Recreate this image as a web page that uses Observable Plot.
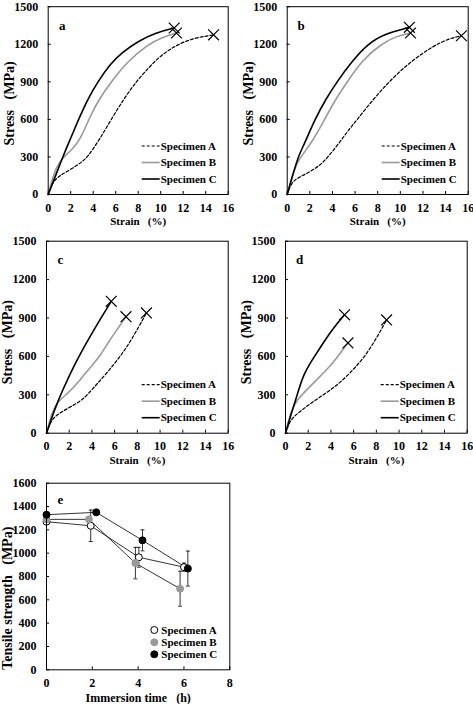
<!DOCTYPE html>
<html><head><meta charset="utf-8">
<script src="https://cdn.jsdelivr.net/npm/d3@7"></script>
<script src="https://cdn.jsdelivr.net/npm/@observablehq/plot@0.6"></script>
<style>
body{margin:0;background:#fff;}
#wrap{position:relative;width:473px;height:704px;background:#fff;overflow:hidden;}
#wrap svg{position:absolute;}
</style></head><body><div id="wrap"></div>
<script>
// ---------- data ----------
const specimens = ["Specimen A", "Specimen B", "Specimen C"];
const strainTicks = [0, 2, 4, 6, 8, 10, 12, 14, 16];
const stressTicks = [0, 300, 600, 900, 1200, 1500];
const hourTicks = [0, 2, 4, 6, 8];
const strengthTicks = [0, 200, 400, 600, 800, 1000, 1200, 1400, 1600];

// panel a
const aStrainA = [0, 0.4, 1, 2, 3, 3.5, 4.5, 5.6, 6.7, 7.8, 9, 10, 11.5, 13, 14.7];
const aStressA = [0, 100, 150, 200, 260, 300, 430, 600, 760, 900, 1020, 1110, 1200, 1250, 1275];
const aStrainB = [0, 0.5, 1, 1.5, 2, 2.5, 3, 3.6, 4.5, 5.6, 7, 8.9, 10, 11.4];
const aStressB = [0, 170, 260, 310, 350, 400, 470, 600, 760, 900, 1060, 1200, 1250, 1290];
const aStrainC = [0, 0.5, 1, 1.5, 2, 2.7, 3.5, 4.4, 5.5, 6.5, 8, 9.5, 11.2];
const aStressC = [0, 115, 230, 345, 450, 600, 760, 900, 1040, 1130, 1225, 1290, 1330];
// panel b
const bStrainA = [0, 0.4, 1, 2, 3, 3.6, 4.5, 5.3, 6.2, 7.6, 9, 10.5, 12, 13.2, 14.5, 15.4];
const bStressA = [0, 100, 135, 180, 240, 300, 400, 500, 600, 760, 900, 1030, 1130, 1200, 1250, 1268];
const bStrainB = [0, 0.5, 1, 2, 3.2, 4.2, 5.3, 6.7, 8.3, 9.5, 10.9];
const bStressB = [0, 170, 280, 390, 580, 750, 900, 1080, 1200, 1260, 1290];
const bStrainC = [0, 0.5, 1, 1.5, 2.45, 3.4, 4.4, 5.6, 7.1, 8.5, 10.8];
const bStressC = [0, 160, 310, 400, 600, 760, 900, 1050, 1200, 1280, 1335];
// panel c
const cStrainA = [0, 0.4, 1, 2, 3, 3.6, 4.5, 5.5, 6.5, 7.5, 8.8];
const cStressA = [0, 100, 150, 200, 250, 300, 390, 490, 600, 730, 940];
const cStrainB = [0, 0.5, 1, 2, 3, 4, 4.7, 5.5, 6.3, 7.0];
const cStressB = [0, 170, 250, 320, 420, 530, 600, 720, 820, 910];
const cStrainC = [0, 0.5, 1, 1.5, 2, 2.85, 3.8, 4.8, 5.7];
const cStressC = [0, 130, 250, 350, 450, 600, 750, 900, 1030];
// panel d
const dStrainA = [0, 0.4, 1, 2, 3, 4, 5, 6, 7, 8, 8.9];
const dStressA = [0, 100, 150, 220, 280, 340, 410, 500, 600, 740, 885];
const dStrainB = [0, 0.5, 1, 2, 3, 4, 4.6, 5.5];
const dStressB = [0, 180, 260, 350, 440, 530, 600, 705];
const dStrainC = [0, 0.5, 1, 1.6, 2.7, 3.5, 4.3, 5.2];
const dStressC = [0, 150, 290, 470, 620, 730, 830, 925];

// panel e
const hoursA = [0, 1.93, 4.03, 6.0];
const strengthA = [1270, 1235, 965, 880];
const errorA = [0, 135, 85, 35];
const hoursB = [0, 1.85, 3.88, 5.83];
const strengthB = [1290, 1290, 915, 695];
const errorB = [0, 0, 135, 150];
const hoursC = [0, 2.17, 4.19, 6.17];
const strengthC = [1330, 1350, 1110, 868];
const errorC = [0, 0, 90, 150];

// ---------- drawing ----------
const FONT = "'Liberation Serif', 'Times New Roman', serif";
const lineStyles = [
  {stroke: "black", strokeWidth: 1.2, strokeDasharray: "3,2"},
  {stroke: "#9a9a9a", strokeWidth: 1.6},
  {stroke: "black", strokeWidth: 1.6}
];
const wrap = document.getElementById("wrap");
const fmt = d => String(d);

function place(svg, left, top) {
  svg.style.left = left + "px";
  svg.style.top = top + "px";
  wrap.appendChild(svg);
}

function baseStyle() {
  return {fontFamily: FONT, fontWeight: "bold", fontSize: "11px", background: "transparent", overflow: "visible"};
}

function strainPanel(cfg) {
  const {W, H, ml, mt, mr, mb, letter, strains, stresses} = cfg;
  const series = specimens.map((s, i) => strains[i].map((x, j) => ({s, x, y: stresses[i][j]})));
  const ends = series.map(rows => rows[rows.length - 1]);
  const plot = Plot.plot({
    width: W, height: H, marginLeft: ml, marginTop: mt, marginRight: mr, marginBottom: mb,
    style: baseStyle(),
    x: {domain: [0, 16]},
    y: {domain: [0, 1500]},
    marks: [
      Plot.axisX({ticks: strainTicks, tickFormat: fmt, tickSize: 0, tickPadding: 8.5, label: null, fontSize: 12}),
      Plot.axisX({ticks: strainTicks, tickSize: 3, text: null, label: null, dy: -3}),
      Plot.axisY({ticks: stressTicks, tickFormat: fmt, tickSize: 0, tickPadding: 10, label: null, fontSize: 12}),
      Plot.axisY({ticks: stressTicks, tickSize: 3, text: null, label: null, dx: 3}),
      ...series.map((rows, i) => Plot.line(rows, {x: "x", y: "y", curve: "basis", ...lineStyles[i]})),
      Plot.dot(ends, {x: "x", y: "y", symbol: "times", r: 5, stroke: "black", strokeWidth: 1.2}),
      Plot.frame({stroke: "black"}),
      Plot.text([letter], {frameAnchor: "top-left", dx: 14, dy: 14, fontSize: 13, textAnchor: "middle"}),
      Plot.text(["Strain   (%)"], {frameAnchor: "bottom", dy: 27, lineAnchor: "middle"}),
      Plot.text(["Stress   (MPa)"], {frameAnchor: "bottom-left", dx: -39, dy: -49, rotate: -90,
        textAnchor: "start", lineAnchor: "middle", fontSize: 14})
    ]
  });
  // legend
  const right = W - mr, bottom = H - mb;
  const g = d3.select(plot).append("g").attr("class", "legend");
  [-48, -31.5, -15].forEach((off, i) => {
    const y = bottom + off;
    const st = lineStyles[i];
    g.append("line").attr("x1", right - 86).attr("x2", right - 68).attr("y1", y).attr("y2", y)
      .attr("stroke", st.stroke).attr("stroke-width", st.strokeWidth)
      .attr("stroke-dasharray", st.strokeDasharray || null);
    g.append("text").attr("x", right - 67).attr("y", y).attr("dy", "0.32em")
      .attr("text-anchor", "start").text(specimens[i]);
  });
  return plot;
}

place(strainPanel({W: 240, H: 236, ml: 47.7, mt: 6.2, mr: 12.3, mb: 42, letter: "a",
  strains: [aStrainA, aStrainB, aStrainC], stresses: [aStressA, aStressB, aStressC]}), 0, 0);
place(strainPanel({W: 233, H: 236, ml: 46.7, mt: 6.2, mr: 5.3, mb: 42, letter: "b",
  strains: [bStrainA, bStrainB, bStrainC], stresses: [bStressA, bStressB, bStressC]}), 240, 0);
place(strainPanel({W: 240, H: 236, ml: 46, mt: 4.7, mr: 12.3, mb: 39.3, letter: "c",
  strains: [cStrainA, cStrainB, cStrainC], stresses: [cStressA, cStressB, cStressC]}), 0, 236);
place(strainPanel({W: 233, H: 236, ml: 45, mt: 4.7, mr: 6.3, mb: 39.3, letter: "d",
  strains: [dStrainA, dStrainB, dStrainC], stresses: [dStressA, dStressB, dStressC]}), 240, 236);

// panel e
(function () {
  const W = 240, H = 232, ml = 46, mt = 10.7, mr = 10.7, mb = 34.7;
  const hours = [hoursA, hoursB, hoursC];
  const strength = [strengthA, strengthB, strengthC];
  const errors = [errorA, errorB, errorC];
  const series = specimens.map((s, i) => hours[i].map((x, j) => ({s, x, y: strength[i][j], e: errors[i][j]})));
  const all = series.flat();
  const bars = all.filter(d => d.e > 0);
  const caps = bars.flatMap(d => [{x: d.x, y: d.y - d.e}, {x: d.x, y: d.y + d.e}]);
  const capSymbol = {draw(ctx, size) { const w = Math.sqrt(size / Math.PI); ctx.moveTo(-w, 0); ctx.lineTo(w, 0); }};
  const dotStyles = [
    {fill: "white", stroke: "black"},
    {fill: "#9a9a9a", stroke: "#9a9a9a"},
    {fill: "black", stroke: "black"}
  ];
  const plot = Plot.plot({
    width: W, height: H, marginLeft: ml, marginTop: mt, marginRight: mr, marginBottom: mb,
    style: baseStyle(),
    x: {domain: [0, 8]},
    y: {domain: [0, 1600]},
    marks: [
      Plot.axisX({ticks: hourTicks, tickFormat: fmt, tickSize: 0, tickPadding: 8.5, label: null, fontSize: 12}),
      Plot.axisX({ticks: hourTicks, tickSize: 3, text: null, label: null, dy: -3}),
      Plot.axisY({ticks: strengthTicks, tickFormat: fmt, tickSize: 0, tickPadding: 10, label: null, fontSize: 12}),
      Plot.axisY({ticks: strengthTicks, tickSize: 3, text: null, label: null, dx: 3}),
      Plot.ruleX(bars, {x: "x", y1: d => d.y - d.e, y2: d => d.y + d.e, stroke: "black", strokeWidth: 0.8}),
      Plot.dot(caps, {x: "x", y: "y", symbol: capSymbol, r: 2, stroke: "black", strokeWidth: 0.8}),
      ...series.map(rows => Plot.line(rows, {x: "x", y: "y", stroke: "black", strokeWidth: 0.8})),
      ...series.map((rows, i) => Plot.dot(rows, {x: "x", y: "y", r: 3.5, strokeWidth: 1, ...dotStyles[i]})),
      Plot.frame({stroke: "black"}),
      Plot.text(["e"], {frameAnchor: "top-left", dx: 14, dy: 12, fontSize: 13, textAnchor: "middle"}),
      Plot.text(["Immersion time   (h)"], {frameAnchor: "bottom", dy: 28.4, lineAnchor: "middle", fontSize: 12}),
      Plot.text(["Tensile strength   (MPa)"], {frameAnchor: "bottom-left", dx: -39, dy: 0, rotate: -90,
        textAnchor: "start", lineAnchor: "middle", fontSize: 14})
    ]
  });
  const right = W - mr, bottom = H - mb;
  const g = d3.select(plot).append("g").attr("class", "legend");
  [-39.3, -27, -15].forEach((off, i) => {
    const y = bottom + off;
    g.append("circle").attr("cx", right - 75).attr("cy", y).attr("r", 3.5)
      .attr("fill", dotStyles[i].fill).attr("stroke", dotStyles[i].stroke);
    g.append("text").attr("x", right - 68).attr("y", y).attr("dy", "0.32em")
      .attr("text-anchor", "start").text(specimens[i]);
  });
  place(plot, 0, 472);
})();
</script></body></html>
